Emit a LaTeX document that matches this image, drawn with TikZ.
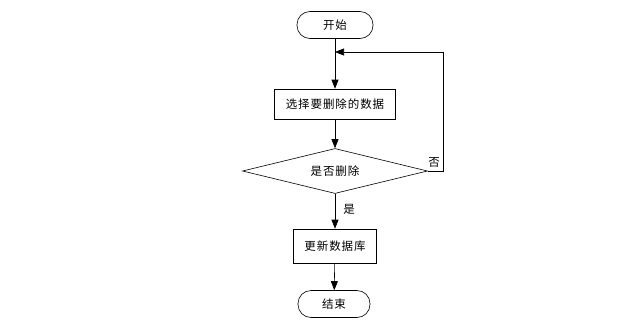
\documentclass[tikz,border=0pt]{standalone}
\usepackage{fontspec}
\setmainfont{Noto Sans CJK SC}[LetterSpace=8]
\usetikzlibrary{shapes.geometric,arrows.meta}
\begin{document}
\begin{tikzpicture}[x=1pt,y=-1pt,
  every node/.style={font=\fontsize{11.5}{13}\selectfont, inner sep=0pt},
  term/.style={draw, line width=0.6pt, rounded corners=13pt, minimum width=76pt, minimum height=27pt},
  proc/.style={draw, line width=0.6pt, minimum width=121pt, minimum height=30pt},
  dec/.style={draw, line width=0.6pt, diamond, aspect=4.1, minimum width=185pt, minimum height=45pt},
  conn/.style={-{Triangle[length=9pt,width=7pt]}, line width=0.6pt},
  lbl/.style={font=\fontsize{11.5}{13}\selectfont}]
\useasboundingbox (0,0) rectangle (642,324);
\node[term] (start) at (335,25) {开始};
\node[proc] (sel) at (335,104) {选择要删除的数据};
\node[dec] (ask) at (335,171) {是否删除};
\node[proc, minimum width=83pt, minimum height=34pt] (upd) at (335,246) {更新数据库};
\node[term, minimum width=72pt] (fin) at (334,304) {结束};
\coordinate (merge) at (335,52);
\coordinate (rc) at (443,171);
\coordinate (rt) at (443,52);
\draw[line width=0.6pt] (start) -- (merge);
\draw[conn] (merge) -- (sel);
\draw[conn] (sel) -- (ask.north);
\draw[conn] (ask.east) -- (rc) -- (rt) -- (merge);
\draw[conn] (ask.south) -- (upd);
\draw[conn] (upd) -- (fin);
\node[lbl] (no) at (434,162) {否};
\node[lbl] (yes) at (349,209) {是};
\end{tikzpicture}
\end{document}
